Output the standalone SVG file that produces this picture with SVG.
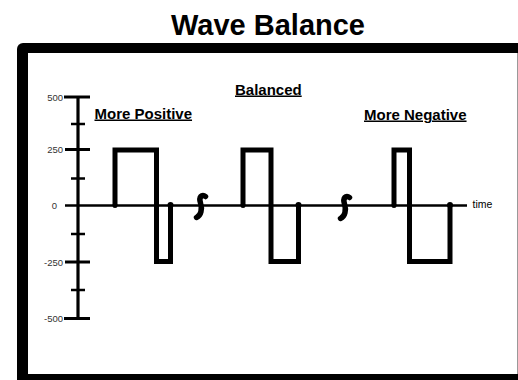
<svg xmlns="http://www.w3.org/2000/svg" width="518" height="380" viewBox="0 0 518 380">
<style>
.wave{fill:none;stroke:#000;stroke-width:5;stroke-linejoin:miter;stroke-linecap:butt}
.tick{stroke:#000;stroke-width:3}
.mtick{stroke:#000;stroke-width:2.5}
.tl{font-family:"Liberation Sans",Arial,sans-serif;font-size:9.5px;fill:#333;text-anchor:end}
.lab{font-family:"Liberation Sans",Arial,sans-serif;font-size:15px;font-weight:bold;fill:#000;text-decoration:underline}
.brk{fill:none;stroke:#000;stroke-width:5.5;stroke-linecap:round}
.dot{fill:#000}
</style>
<rect width="518" height="380" fill="#fff"/>
<text id="title" x="268" y="35" font-family="Liberation Sans,Arial,sans-serif" font-size="29" font-weight="bold" text-anchor="middle" fill="#000">Wave Balance</text>
<g id="frame">
<rect x="17" y="43" width="520" height="350" rx="6" fill="#000"/>
<rect x="28" y="53" width="489" height="321" fill="#fff"/>
<line x1="517.5" y1="53" x2="517.5" y2="374" stroke="#999" stroke-width="1"/>
</g>
<g id="axes">
<line x1="78" y1="96" x2="78" y2="320" stroke="#000" stroke-width="3.2"/>
<line x1="65" y1="205.5" x2="467" y2="205.5" stroke="#000" stroke-width="2.6"/>
<line class="tick" x1="64" y1="97" x2="90" y2="97"/>
<line class="tick" x1="65" y1="149.5" x2="90" y2="149.5"/>
<line class="tick" x1="65" y1="262" x2="90" y2="262"/>
<line class="tick" x1="64" y1="318.5" x2="90" y2="318.5"/>
<line class="mtick" x1="71" y1="124" x2="85" y2="124"/>
<line class="mtick" x1="71" y1="178.5" x2="85" y2="178.5"/>
<line class="mtick" x1="71" y1="234" x2="85" y2="234"/>
<line class="mtick" x1="71" y1="290" x2="85" y2="290"/>
<text class="tl" x="63" y="100.5">500</text>
<text class="tl" x="63" y="153">250</text>
<text class="tl" x="57" y="209">0</text>
<text class="tl" x="63" y="265.5">-250</text>
<text class="tl" x="63" y="322">-500</text>
<text x="472.5" y="207.5" font-family="Liberation Sans,Arial,sans-serif" font-size="10.5" fill="#000">time</text>
</g>
<g id="wave-positive">
<polyline class="wave" points="115,205 115,150 156.5,150 156.5,261.5 170.5,261.5 170.5,205"/>
<circle class="dot" cx="115" cy="205.5" r="2.5"/>
<circle class="dot" cx="170.5" cy="205" r="3"/>
<text class="lab" x="94.5" y="118.5">More Positive</text>
</g>
<g id="wave-balanced">
<polyline class="wave" points="243,205 243,150 271,150 271,261.5 298.5,261.5 298.5,205"/>
<circle class="dot" cx="243" cy="205.5" r="2.5"/>
<circle class="dot" cx="298.5" cy="205" r="3"/>
<text class="lab" x="235" y="94.5">Balanced</text>
</g>
<g id="wave-negative">
<polyline class="wave" points="394,205 394,150 409.5,150 409.5,261.5 450,261.5 450,205"/>
<circle class="dot" cx="394" cy="205.5" r="2.5"/>
<circle class="dot" cx="450" cy="205" r="3"/>
<text class="lab" x="364" y="119.5">More Negative</text>
</g>
<g id="breaks">
<path class="brk" d="M205.5,196.5 C202,193.5 198.5,197 200.5,203 C202.5,209 201,215.5 196.5,217.5"/>
<path class="brk" d="M349.5,197.5 C346,194.5 342.5,198 344.5,204 C346.5,210 345,216.5 340.5,218.5"/>
</g>
</svg>
